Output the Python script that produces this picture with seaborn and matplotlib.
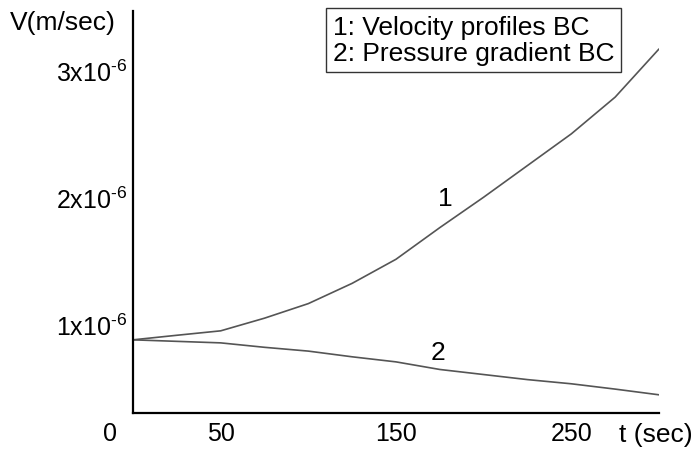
import numpy as np
import pandas as pd
import seaborn as sns
import matplotlib
matplotlib.use("Agg")
from matplotlib import pyplot as plt
from matplotlib import transforms

# time (sec) and velocity (m/sec)
t = [0, 25, 50, 75, 100, 125, 150, 175, 200, 225, 250, 275, 300]
v_velocity_bc = [0.874e-6, 0.91e-6, 0.945e-6, 1.045e-6, 1.16e-6, 1.32e-6, 1.51e-6,
                 1.76e-6, 2.0e-6, 2.25e-6, 2.50e-6, 2.79e-6, 3.17e-6]
v_pressure_bc = [0.874e-6, 0.862e-6, 0.85e-6, 0.815e-6, 0.785e-6, 0.74e-6, 0.70e-6,
                 0.64e-6, 0.60e-6, 0.56e-6, 0.527e-6, 0.485e-6, 0.44e-6]

x_ticks = [0, 50, 150, 250]
x_ticklabels = ["0", "50", "150", "250"]
y_ticks = [1e-6, 2e-6, 3e-6]
y_ticklabels = [r"1x10$^{\text{-}6}$", r"2x10$^{\text{-}6}$", r"3x10$^{\text{-}6}$"]

sns.set_theme(style="white")
plt.rcParams["font.family"] = ["Liberation Sans", "DejaVu Sans"]
plt.rcParams["mathtext.fontset"] = "custom"
plt.rcParams["mathtext.rm"] = "Liberation Sans"
plt.rcParams["mathtext.it"] = "Liberation Sans"
plt.rcParams["mathtext.default"] = "regular"
plt.rcParams["text.color"] = "black"
plt.rcParams["xtick.color"] = "black"
plt.rcParams["ytick.color"] = "black"

df = pd.DataFrame({"t": t, "v1": v_velocity_bc, "v2": v_pressure_bc})

fig = plt.figure(figsize=(7, 4.56), dpi=100)
ax = fig.add_axes([0.19, 0.092, 0.7514, 0.8817])

sns.lineplot(data=df, x="t", y="v1", ax=ax, color="#555555", linewidth=1.2)
sns.lineplot(data=df, x="t", y="v2", ax=ax, color="#555555", linewidth=1.2)

ax.set_xlim(0, 300)
ax.set_ylim(0.296e-6, 3.47e-6)
ax.set_xlabel("")
ax.set_ylabel("")

ax.set_xticks(x_ticks)
ax.set_xticklabels(x_ticklabels, fontsize=18)
ax.set_yticks(y_ticks)
ax.set_yticklabels(y_ticklabels, fontsize=18)
ax.tick_params(axis="x", length=0, pad=6)
ax.tick_params(axis="y", length=0, pad=4)

# the "0" sits left of the corner
lbl0 = ax.get_xticklabels()[0]
lbl0.set_transform(lbl0.get_transform() + transforms.ScaledTranslation(-0.23, 0, fig.dpi_scale_trans))

for s in ["top", "right"]:
    ax.spines[s].set_visible(False)
for s in ["left", "bottom"]:
    ax.spines[s].set_color("black")
    ax.spines[s].set_linewidth(1.6)

ax.text(178, 1.99e-6, "1", fontsize=19, ha="center", va="center")
ax.text(174, 0.78e-6, "2", fontsize=19, ha="center", va="center")

fig.text(10 / 700, 1 - 23 / 456, "V(m/sec)", fontsize=19, ha="left", va="center")
fig.text(693 / 700, 1 - 435 / 456, "t (sec)", fontsize=19, ha="right", va="center")

fig.text(333 / 700, 1 - 41 / 456, "1: Velocity profiles BC\n2: Pressure gradient BC",
         fontsize=19, ha="left", va="center", linespacing=1.15,
         bbox=dict(boxstyle="square,pad=0.25", facecolor="white", edgecolor="#333333", linewidth=1))

fig.savefig("out.png", dpi=100)
plt.close(fig)
